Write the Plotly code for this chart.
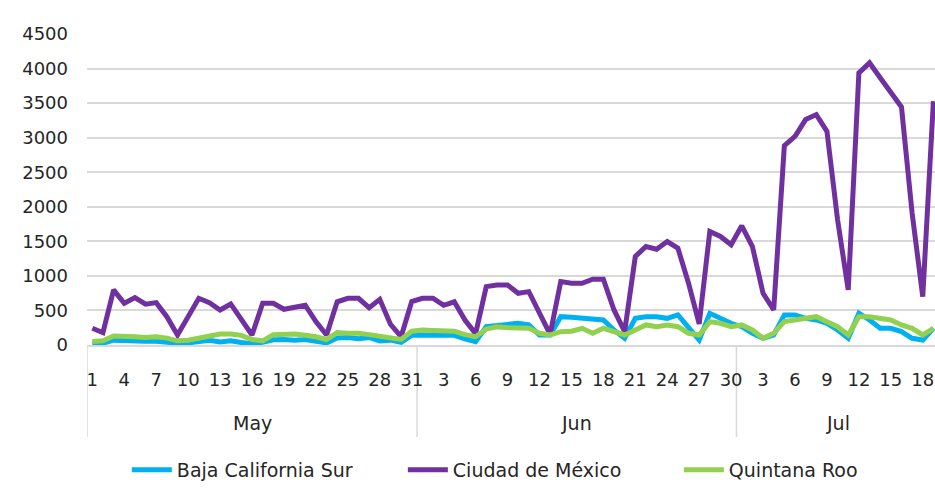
import plotly.graph_objects as go

# ---- data ----
months = ["May", "Jun", "Jul"]
days_per_month = [31, 30, 19]

baja_california_sur = [
    20, 25, 70, 60, 55, 55, 55, 40, 25, 30, 50, 70, 45, 60, 35, 20, 40, 75, 80, 70,
    80, 50, 30, 100, 110, 90, 110, 60, 70, 40, 140,
    145, 140, 130, 140, 90, 48, 265, 280, 300, 314, 290, 145, 145, 410, 400, 386, 386, 362, 217,
    97, 386, 410, 410, 386, 435, 265, 72, 459, 386, 314,
    265, 170, 97, 145, 435, 435, 386, 362, 314, 217, 97, 459, 362, 242, 242, 193, 97, 72, 242,
]
ciudad_de_mexico = [
    242, 178, 797, 604, 686, 590, 613, 410, 145, 410, 676, 613, 507, 594, 362, 145, 604, 604, 517, 540,
    575, 338, 145, 625, 676, 676, 540, 660, 300, 120, 628,
    676, 676, 575, 625, 362, 165, 845, 869, 869, 748, 772, 458, 155, 918, 893, 893, 952, 952, 507,
    193, 1280, 1425, 1386, 1497, 1401, 894, 304, 1643, 1570, 1450,
    1725, 1425, 749, 507, 2884, 3020, 3262, 3334, 3092, 1812, 797, 3938, 4083, 3866, 3648, 3445, 1909, 700, 3527,
]
quintana_roo = [
    50, 60, 130, 130, 120, 110, 120, 100, 60, 70, 100, 140, 160, 160, 140, 80, 60, 150, 150, 160,
    140, 120, 80, 180, 170, 170, 150, 130, 100, 80, 200,
    217, 210, 200, 200, 150, 120, 230, 265, 250, 242, 242, 170, 145, 193, 200, 242, 170, 242, 193,
    145, 217, 290, 265, 290, 265, 170, 145, 338, 314, 265,
    290, 217, 97, 170, 338, 362, 386, 410, 338, 265, 145, 410, 410, 386, 362, 290, 242, 145, 242,
]

series_names = ["Baja California Sur", "Ciudad de México", "Quintana Roo"]
series_values = [baja_california_sur, ciudad_de_mexico, quintana_roo]
series_colors = ["#00B0F0", "#7030A0", "#92D050"]
y_ticks = [0, 500, 1000, 1500, 2000, 2500, 3000, 3500, 4000, 4500]

# ---- derived categories ----
day_labels = []
month_start = []
idx = 0
for m, n in zip(months, days_per_month):
    month_start.append(idx)
    for d in range(1, n + 1):
        day_labels.append(str(d))
    idx += n
n_points = len(day_labels)
x_idx = list(range(n_points))
tick_vals = list(range(0, n_points, 3))
tick_text = [day_labels[i] for i in tick_vals]

FONT = "'DejaVu Sans', 'Liberation Sans', sans-serif"
GRID = "#D9D9D9"
TXT = "#262626"

fig = go.Figure()
for name, vals, col in zip(series_names, series_values, series_colors):
    fig.add_trace(go.Scatter(
        x=x_idx, y=vals, name=name, mode="lines",
        line=dict(color=col, width=5, shape="linear"),
    ))

# month separators and labels
boundaries = [s - 0.5 for s in month_start]
for b in boundaries:
    fig.add_shape(type="line", xref="x", yref="paper", x0=b, x1=b, y0=-0.296, y1=0,
                  line=dict(color=GRID, width=1.5), layer="below")
for m, s, n in zip(months, month_start, days_per_month):
    fig.add_annotation(x=s + (n - 1) / 2, y=-0.25, xref="x", yref="paper", text=m,
                       showarrow=False, font=dict(size=19, color=TXT, family=FONT),
                       yanchor="middle")

fig.update_layout(
    width=935, height=488,
    margin=dict(l=87, r=0, t=34, b=143, autoexpand=False),
    paper_bgcolor="white", plot_bgcolor="white",
    font=dict(family=FONT, size=18, color=TXT),
    showlegend=True,
    legend=dict(orientation="h", x=0.047, xanchor="left", y=-0.402, yanchor="middle",
                font=dict(size=19, family=FONT, color=TXT),
                entrywidth=221, entrywidthmode="pixels", itemwidth=40),
)
fig.update_xaxes(
    range=[-0.5, 79.15], tickmode="array", tickvals=tick_vals, ticktext=tick_text,
    showgrid=False, zeroline=False, showline=True, linecolor=GRID, linewidth=1.5,
    ticks="", ticklabelstandoff=18, automargin=False,
    tickfont=dict(size=18, family=FONT, color=TXT),
)
fig.update_yaxes(
    range=[0, 4500], tickmode="array", tickvals=y_ticks,
    showgrid=True, gridcolor=GRID, gridwidth=1.5, zeroline=False, showline=False,
    ticks="", ticklabelstandoff=18, automargin=False,
    tickfont=dict(size=18, family=FONT, color=TXT),
)

fig.write_html(
    "out.html",
    config={"displayModeBar": False},
    post_script="document.body.style.margin='0';document.body.style.overflow='hidden';",
)
